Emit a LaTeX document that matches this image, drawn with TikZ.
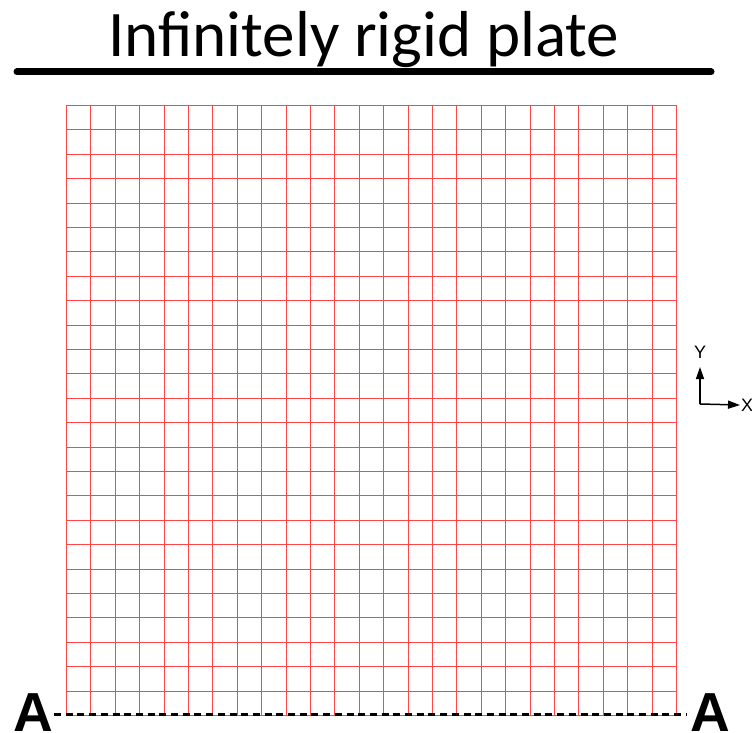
\documentclass[tikz,border=0pt]{standalone}
\usepackage{fontspec}
\setmainfont{Carlito}
\newfontfamily\arialfont{Liberation Sans}
\usetikzlibrary{arrows.meta}
\definecolor{meshred}{RGB}{255,70,70}

\begin{document}
\begin{tikzpicture}[x=1pt,y=-1pt]
\useasboundingbox (0,0) rectangle (752,733);

% plate on top
\node[anchor=base west,inner sep=0] (title) at (108,57) {\fontsize{65}{65}\selectfont Infinitely rigid plate};
\draw[line width=7pt,line cap=round] (17,72) -- (711,72);

% mesh, 25 x 25 elements
\foreach \i in {0,...,25} {
  \pgfmathsetmacro\px{66.5+round(\i*24.4)}
  \pgfmathsetmacro\py{105.5+round(\i*24.4)}
  \draw[meshred,line width=1.6pt] (\px,105.5) -- (\px,715.5);
  \draw[meshred,line width=1.6pt] (66.5,\py) -- (676.5,\py);
}

% section A-A
\node[anchor=base west,inner sep=0] (aL) at (13,731) {\arialfont\bfseries\fontsize{55}{55}\selectfont A};
\node[anchor=base west,inner sep=0] (aR) at (690,731) {\arialfont\bfseries\fontsize{55}{55}\selectfont A};
\coordinate (dL) at (54,714);
\coordinate (dR) at (686,714);
\draw[line width=3pt,dash pattern=on 7pt off 4.7pt] (dL) -- (dR);

% axes
\coordinate (o) at (700,404);
\node[inner sep=1pt] (ylab) at (700,352) {\arialfont\fontsize{18}{18}\selectfont Y};
\node[inner sep=1pt,anchor=west] (xlab) at (740,405) {\arialfont\fontsize{18}{18}\selectfont X};
\draw[line width=1.5pt,-{Triangle[length=12pt,width=8pt]}] (o) -- (700,367);
\draw[line width=1.5pt,-{Triangle[length=12pt,width=8pt]}] (o) -- (xlab.west);
\end{tikzpicture}
\end{document}
